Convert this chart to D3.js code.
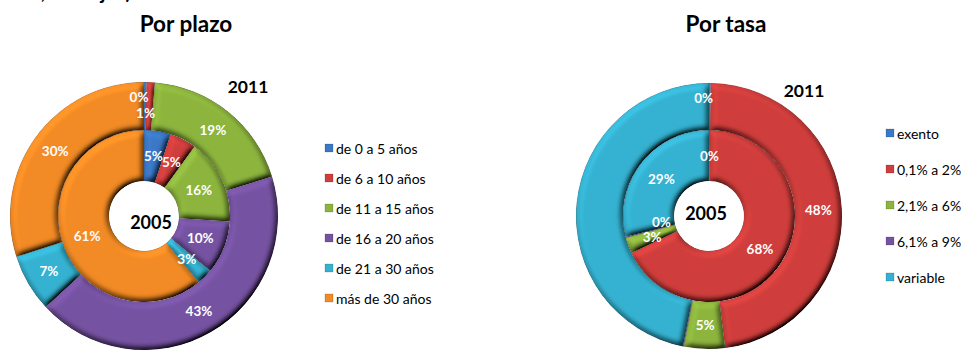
<!DOCTYPE html>
<html>
<head>
<meta charset="utf-8">
<script src="https://cdn.jsdelivr.net/npm/d3@7/dist/d3.min.js"></script>
<style>
  html, body { margin: 0; padding: 0; background: #fff; }
  svg { display: block; }
  text { font-family: Lato, "Open Sans", sans-serif; }
</style>
</head>
<body>
<svg id="chart" width="967" height="351"></svg>
<script>
// ---- data ----
const plazoCategories = ["de 0 a 5 años", "de 6 a 10 años", "de 11 a 15 años",
                         "de 16 a 20 años", "de 21 a 30 años", "más de 30 años"];
const plazo2005 = [5, 5, 16, 10, 3, 61];
const plazo2011 = [0.3, 1, 19, 43, 7, 30];

const tasaCategories = ["exento", "0,1% a 2%", "2,1% a 6%", "6,1% a 9%", "variable"];
const tasa2005 = [0.2, 68, 3, 0.2, 29];
const tasa2011 = [0.2, 48, 5, 0.1, 47];

const seriesColors = ["#3b78c6", "#d03e3c", "#8db53e", "#7653a2", "#35b2d1", "#f28b25"];

const svg = d3.select("#chart");

// bevel-like shading for each slice
const defs = svg.append("defs");
const f = defs.append("filter").attr("id", "bevel")
  .attr("x", "-10%").attr("y", "-10%").attr("width", "120%").attr("height", "120%");
f.append("feGaussianBlur").attr("in", "SourceAlpha").attr("stdDeviation", 3).attr("result", "blur");
f.append("feDiffuseLighting").attr("in", "blur").attr("surfaceScale", 6)
  .attr("diffuseConstant", 1).attr("lighting-color", "#fff").attr("result", "light")
  .append("feDistantLight").attr("azimuth", 235).attr("elevation", 55);
f.append("feComposite").attr("in", "SourceGraphic").attr("in2", "light")
  .attr("operator", "arithmetic").attr("k1", 1.22).attr("k2", 0).attr("k3", 0).attr("k4", 0)
  .attr("result", "lit");
f.append("feComposite").attr("in", "lit").attr("in2", "SourceAlpha").attr("operator", "in");

// heading line above the charts (only its lower edge falls inside the frame)
svg.append("text").attr("x", 131).attr("y", -1).attr("text-anchor", "end")
  .attr("font-size", 20).attr("font-weight", "bold").attr("fill", "#000")
  .text("(saldos, en flujos)");

function drawDonut(opt) {
  const g = svg.append("g").attr("transform", `translate(${opt.cx},${opt.cy})`);
  const pie = d3.pie().sort(null).value(d => d);
  const rings = [
    { values: opt.inner, r0: 35, r1: 86, adj: opt.innerAdj || {} },
    { values: opt.outer, r0: 86, r1: opt.r, adj: opt.outerAdj || {} }
  ];
  rings.forEach(ring => {
    const arc = d3.arc().innerRadius(ring.r0).outerRadius(ring.r1);
    const mid = d3.arc().innerRadius((ring.r0 + ring.r1) / 2).outerRadius((ring.r0 + ring.r1) / 2);
    const arcs = pie(ring.values);
    g.append("g").selectAll("path").data(arcs).join("path")
      .attr("d", arc)
      .attr("fill", (d, i) => seriesColors[i])
      .attr("stroke", "rgba(40,40,40,0.35)")
      .attr("stroke-width", 0.7)
      .attr("filter", "url(#bevel)");
    g.append("g").selectAll("text").data(arcs).join("text")
      .filter((d, i) => !(ring.adj[i] && ring.adj[i].hide))
      .attr("transform", (d, i) => {
        const c = mid.centroid(d);
        const a = ring.adj[i] || { dx: 0, dy: 0 };
        return `translate(${c[0] + a.dx},${c[1] + a.dy})`;
      })
      .attr("text-anchor", "middle").attr("dominant-baseline", "central")
      .attr("font-size", 13.5).attr("font-weight", "bold").attr("fill", "#fff")
      .text(d => Math.round(d.data) + "%");
  });
  // year labels
  g.append("text").attr("x", opt.innerYear[0]).attr("y", opt.innerYear[1])
    .attr("text-anchor", "middle").attr("dominant-baseline", "central")
    .attr("font-size", 18).attr("font-weight", "bold").attr("fill", "#000").text("2005");
  svg.append("text").attr("x", opt.outerYear[0]).attr("y", opt.outerYear[1])
    .attr("text-anchor", "middle").attr("font-size", 17.5).attr("font-weight", "bold")
    .attr("fill", "#000").text("2011");
  // title
  svg.append("text").attr("x", opt.titleX).attr("y", 32).attr("text-anchor", "middle")
    .attr("font-size", 22.5).attr("font-weight", "bold").attr("fill", "#000").text(opt.title);
  // legend
  const lg = svg.append("g").attr("transform", `translate(${opt.legendX},${opt.legendY})`);
  const rows = lg.selectAll("g").data(opt.categories).join("g")
    .attr("transform", (d, i) => `translate(0,${i * opt.legendStep})`);
  rows.append("rect").attr("x", 0).attr("y", -4).attr("width", 8).attr("height", 8)
    .attr("fill", (d, i) => seriesColors[i])
    .attr("stroke", "rgba(0,0,0,0.3)").attr("stroke-width", 0.5);
  rows.append("text").attr("x", 11).attr("y", 0).attr("dominant-baseline", "central")
    .attr("font-size", 14).attr("fill", "#000").text(d => d);
}

drawDonut({
  title: "Por plazo", titleX: 186,
  cx: 144, cy: 216, r: 134,
  inner: plazo2005, outer: plazo2011,
  outerAdj: { 0: { dx: -6, dy: -9 }, 1: { dx: -4, dy: 7 } },
  innerYear: [7, 6], outerYear: [248, 93],
  categories: plazoCategories, legendX: 325, legendY: 148, legendStep: 30
});

drawDonut({
  title: "Por tasa", titleX: 726,
  cx: 709, cy: 216, r: 133,
  inner: tasa2005, outer: tasa2011,
  innerAdj: { 3: { dx: 11, dy: -9 } },
  outerAdj: { 0: { dx: -6, dy: -9 }, 3: { hide: true } },
  innerYear: [-3, -3], outerYear: [804, 97],
  categories: tasaCategories, legendX: 886, legendY: 133, legendStep: 36
});
</script>
</body>
</html>
